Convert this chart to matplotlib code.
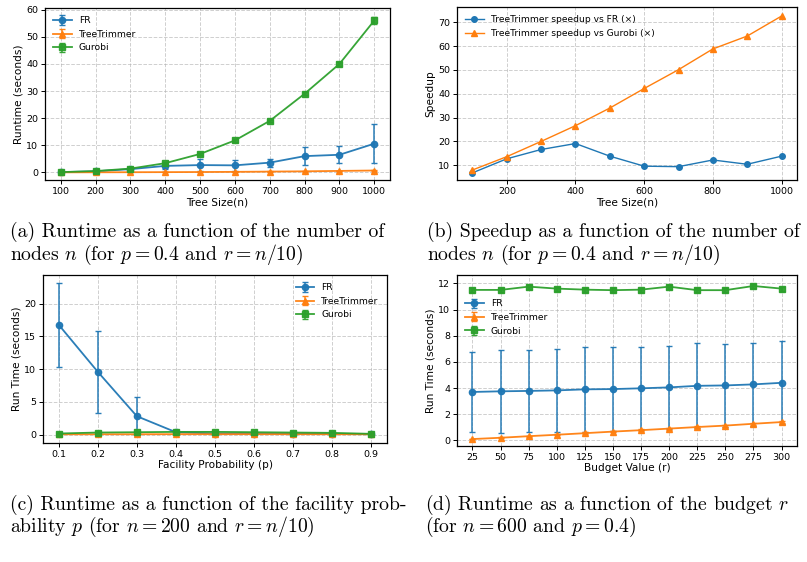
import matplotlib
matplotlib.use("Agg")
import matplotlib.pyplot as plt
import numpy as np

plt.rcParams['mathtext.fontset'] = 'cm'

# ---------------- data ----------------
# (a) runtime vs tree size
n_sizes = [100, 200, 300, 400, 500, 600, 700, 800, 900, 1000]
a_fr = [0.1, 0.4, 1.2, 2.4, 2.7, 2.6, 3.6, 6.0, 6.5, 10.6]
a_fr_err = [0.1, 0.3, 0.5, 1.2, 2.2, 2.0, 1.5, 3.3, 3.2, 7.2]
a_tt = [0.02, 0.04, 0.07, 0.1, 0.14, 0.2, 0.3, 0.4, 0.55, 0.7]
a_tt_err = [0.01, 0.02, 0.03, 0.04, 0.05, 0.06, 0.08, 0.1, 0.12, 0.15]
a_gu = [0.1, 0.5, 1.4, 3.4, 6.8, 11.8, 19.0, 29.0, 40.0, 56.0]
a_gu_err = [0.2, 0.3, 0.3, 0.4, 0.5, 0.5, 0.5, 0.6, 0.7, 1.2]

# (b) speedup vs tree size
b_fr = [6.8, 12.7, 16.6, 19.1, 13.8, 9.6, 9.4, 12.2, 10.4, 13.8]
b_gu = [8.0, 13.6, 20.0, 26.6, 34.0, 42.2, 50.1, 58.8, 64.2, 72.6]

# (c) runtime vs facility probability
p_vals = [0.1, 0.2, 0.3, 0.4, 0.5, 0.6, 0.7, 0.8, 0.9]
c_fr = [16.8, 9.6, 2.8, 0.35, 0.15, 0.12, 0.1, 0.08, 0.05]
c_fr_err = [6.4, 6.3, 3.0, 0.2, 0.1, 0.08, 0.06, 0.05, 0.03]
c_tt = [0.03, 0.04, 0.04, 0.05, 0.05, 0.05, 0.05, 0.04, 0.04]
c_tt_err = [0.01, 0.01, 0.01, 0.01, 0.01, 0.01, 0.01, 0.01, 0.01]
c_gu = [0.15, 0.3, 0.35, 0.4, 0.4, 0.35, 0.3, 0.25, 0.1]
c_gu_err = [0.05, 0.08, 0.08, 0.08, 0.08, 0.07, 0.06, 0.05, 0.03]

# (d) runtime vs budget
r_vals = [25, 50, 75, 100, 125, 150, 175, 200, 225, 250, 275, 300]
d_fr = [3.7, 3.75, 3.78, 3.82, 3.9, 3.92, 3.98, 4.05, 4.17, 4.2, 4.28, 4.4]
d_fr_err = [3.05, 3.15, 3.15, 3.18, 3.25, 3.18, 3.19, 3.2, 3.25, 3.2, 3.19, 3.17]
d_tt = [0.1, 0.2, 0.32, 0.43, 0.55, 0.67, 0.78, 0.9, 1.02, 1.13, 1.27, 1.4]
d_tt_err = [0.03, 0.04, 0.05, 0.05, 0.06, 0.06, 0.07, 0.07, 0.08, 0.08, 0.09, 0.1]
d_gu = [11.5, 11.5, 11.75, 11.6, 11.52, 11.48, 11.52, 11.75, 11.48, 11.48, 11.8, 11.6]
d_gu_err = [0.15, 0.15, 0.15, 0.15, 0.15, 0.15, 0.15, 0.15, 0.15, 0.15, 0.15, 0.15]

labels = ["FR", "TreeTrimmer", "Gurobi"]
markers = ["o", "^", "s"]
colors = ["#1f77b4", "#ff7f0e", "#2ca02c"]

captions = [
    ("(a) Runtime as a function of the number of", r"nodes $n$ (for $p = 0.4$ and $r = n/10$)"),
    ("(b) Speedup as a function of the number of", r"nodes $n$ (for $p = 0.4$ and $r = n/10$)"),
    ("(c) Runtime as a function of the facility prob-", r"ability $p$ (for $n = 200$ and $r = n/10$)"),
    ("(d) Runtime as a function of the budget $r$", r"(for $n = 600$ and $p = 0.4$)"),
]

W, H = 807, 562
fig = plt.figure(figsize=(W / 100, H / 100), dpi=100)


def px_axes(l, t, r, b):
    return fig.add_axes([l / W, (H - b) / H, (r - l) / W, (b - t) / H])


TICK = 6.8
LAB = 7.6
LEG = 6.6


def style(ax):
    ax.grid(True, linestyle='--', color='#b0b0b0', alpha=0.6, linewidth=0.7)
    ax.tick_params(labelsize=TICK, length=3, width=0.7, pad=2)
    for s in ax.spines.values():
        s.set_linewidth(0.9)


def err_plot(ax, x, ys, errs, lw=1.3, ms=4.5):
    for y, e, lab, m, c in zip(ys, errs, labels, markers, colors):
        ax.errorbar(x, y, yerr=e, label=lab, marker=m, color=c, capsize=2.5,
                    linewidth=lw, markersize=ms, elinewidth=1.1, capthick=1.0,
                    ecolor=c, alpha=0.95)


# (a)
ax = px_axes(45, 8, 390, 180)
err_plot(ax, n_sizes, [a_fr, a_tt, a_gu], [a_fr_err, a_tt_err, a_gu_err])
ax.set_xticks(n_sizes)
ax.set_ylim(-2.8, 60.6)
ax.set_yticks([0, 10, 20, 30, 40, 50, 60])
ax.set_xlabel("Tree Size(n)", fontsize=LAB, labelpad=1)
ax.set_ylabel("Runtime (seconds)", fontsize=LAB, labelpad=2)
ax.legend(loc='upper left', fontsize=LEG, frameon=False)
style(ax)

# (b)
ax = px_axes(457, 7, 797, 180)
ax.plot(n_sizes, b_fr, marker='o', color=colors[0], linewidth=1.0, markersize=4,
        label="TreeTrimmer speedup vs FR (×)")
ax.plot(n_sizes, b_gu, marker='^', color=colors[1], linewidth=1.0, markersize=4,
        label="TreeTrimmer speedup vs Gurobi (×)")
ax.set_ylim(3.8, 76.4)
ax.set_xticks([200, 400, 600, 800, 1000])
ax.set_yticks([10, 20, 30, 40, 50, 60, 70])
ax.set_xlabel("Tree Size(n)", fontsize=LAB, labelpad=1)
ax.set_ylabel("Speedup", fontsize=LAB, labelpad=2)
ax.legend(loc='upper left', fontsize=LEG, frameon=False)
style(ax)

# (c)
ax = px_axes(43, 275, 387, 443)
err_plot(ax, p_vals, [c_fr, c_tt, c_gu], [c_fr_err, c_tt_err, c_gu_err])
ax.set_xticks(p_vals)
ax.set_ylim(-1.3, 24.4)
ax.set_yticks([0, 5, 10, 15, 20])
ax.set_xlabel("Facility Probability (p)", fontsize=LAB, labelpad=1)
ax.set_ylabel("Run Time (seconds)", fontsize=LAB, labelpad=2)
ax.legend(loc='upper right', fontsize=LEG, frameon=False)
style(ax)

# (d)
ax = px_axes(457, 275, 797, 446)
err_plot(ax, r_vals, [d_fr, d_tt, d_gu], [d_fr_err, d_tt_err, d_gu_err])
ax.set_xticks(r_vals)
ax.set_ylim(-0.43, 12.64)
ax.set_yticks([0, 2, 4, 6, 8, 10, 12])
ax.set_xlabel("Budget Value (r)", fontsize=LAB, labelpad=1)
ax.set_ylabel("Run Time (seconds)", fontsize=LAB, labelpad=2)
ax.legend(loc='upper left', bbox_to_anchor=(0.0, 0.905), fontsize=LEG, frameon=False)
style(ax)

# captions
CAP = 14.2
cap_pos = [(10, 232, 255), (427, 232, 255), (10, 505, 527), (425, 505, 527)]
for (l1, l2), (x, y1, y2) in zip(captions, cap_pos):
    fig.text(x / W, 1 - y1 / H, l1, fontsize=CAP, family='cmr10', va='center', ha='left')
    fig.text(x / W, 1 - y2 / H, l2, fontsize=CAP, family='cmr10', va='center', ha='left')

fig.savefig("out.png", dpi=100)
